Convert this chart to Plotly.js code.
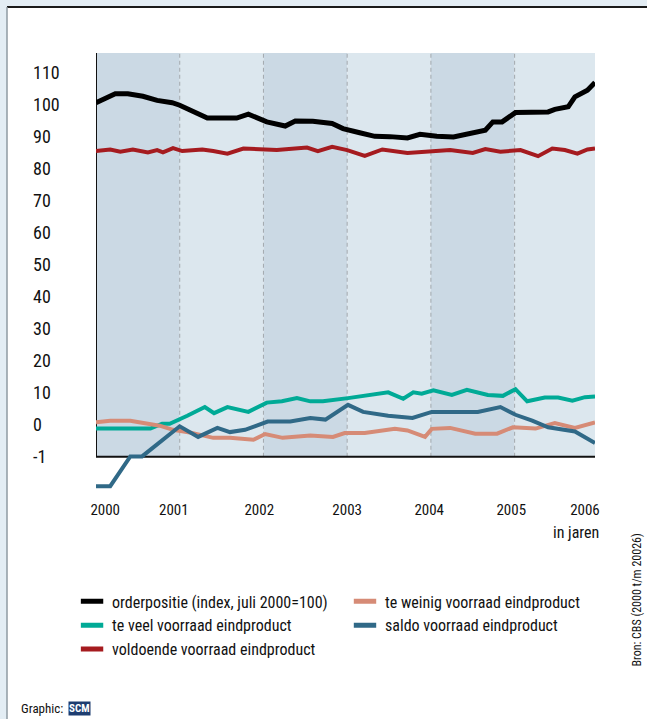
<!DOCTYPE html>
<html>
<head>
<meta charset="utf-8">
<script src="https://cdn.plot.ly/plotly-3.0.1.min.js"></script>
<style>
html,body{margin:0;padding:0;background:#fff;}
#chart{width:647px;height:719px;}
</style>
</head>
<body>
<div id="chart"></div>
<script>
// ---- data (decimal years, index / balance values) ----
var orderX = [2000.00, 2000.23, 2000.38, 2000.56, 2000.73, 2000.91, 2001.00, 2001.16, 2001.33, 2001.68, 2001.82, 2002.04, 2002.26, 2002.38, 2002.59, 2002.82, 2002.95, 2003.15, 2003.33, 2003.51, 2003.72, 2003.87, 2004.07, 2004.27, 2004.44, 2004.65, 2004.74, 2004.85, 2005.01, 2005.22, 2005.40, 2005.48, 2005.64, 2005.72, 2005.87, 2005.96];
var orderY = [100.5, 103.3, 103.3, 102.5, 101.2, 100.5, 99.7, 97.8, 95.7, 95.7, 96.9, 94.5, 93.2, 94.8, 94.7, 94.0, 92.4, 91.1, 90.0, 89.9, 89.5, 90.6, 90.0, 89.8, 90.9, 91.9, 94.5, 94.5, 97.4, 97.6, 97.6, 98.4, 99.2, 102.3, 104.4, 106.8];

var voldoendeX = [2000.00, 2000.17, 2000.29, 2000.44, 2000.62, 2000.73, 2000.80, 2000.92, 2001.03, 2001.27, 2001.40, 2001.57, 2001.76, 2002.16, 2002.52, 2002.65, 2002.82, 2003.00, 2003.21, 2003.42, 2003.72, 2004.23, 2004.50, 2004.65, 2004.83, 2005.07, 2005.28, 2005.45, 2005.60, 2005.75, 2005.87, 2005.96];
var voldoendeY = [85.4, 85.9, 85.2, 85.9, 85.0, 85.7, 85.0, 86.3, 85.4, 85.9, 85.4, 84.6, 86.2, 85.7, 86.5, 85.4, 86.7, 85.7, 83.9, 85.9, 84.8, 85.7, 84.8, 86.0, 85.2, 85.7, 83.8, 86.2, 85.7, 84.6, 85.9, 86.2];

var teveelX = [2000.00, 2000.65, 2000.79, 2000.88, 2001.09, 2001.30, 2001.41, 2001.57, 2001.82, 2002.04, 2002.22, 2002.40, 2002.56, 2002.71, 2003.01, 2003.21, 2003.49, 2003.67, 2003.79, 2003.89, 2004.03, 2004.25, 2004.43, 2004.68, 2004.86, 2005.01, 2005.15, 2005.36, 2005.52, 2005.69, 2005.84, 2005.96];
var teveelY = [-1.2, -1.2, 0.3, 0.3, 2.8, 5.5, 3.6, 5.5, 4.0, 6.9, 7.3, 8.3, 7.3, 7.3, 8.3, 9.0, 10.1, 8.1, 10.1, 9.7, 10.7, 9.3, 10.9, 9.3, 9.0, 11.1, 7.3, 8.5, 8.5, 7.5, 8.6, 8.8];

var teweinigX = [2000.00, 2000.17, 2000.41, 2000.61, 2000.76, 2000.92, 2001.12, 2001.40, 2001.60, 2001.88, 2002.02, 2002.23, 2002.56, 2002.83, 2002.97, 2003.21, 2003.57, 2003.72, 2003.93, 2004.01, 2004.23, 2004.53, 2004.79, 2004.98, 2005.25, 2005.48, 2005.72, 2005.96];
var teweinigY = [0.8, 1.2, 1.2, 0.2, -0.3, -1.6, -2.4, -4.1, -4.1, -4.7, -2.9, -4.1, -3.4, -3.8, -2.6, -2.6, -1.3, -1.8, -3.8, -1.3, -1.0, -2.8, -2.8, -0.8, -1.2, 0.5, -1.0, 0.7];

var saldoX = [2000.00, 2000.17, 2000.41, 2000.55, 2001.00, 2001.22, 2001.45, 2001.60, 2001.78, 2002.05, 2002.32, 2002.56, 2002.74, 2003.01, 2003.19, 2003.49, 2003.78, 2004.01, 2004.56, 2004.83, 2005.01, 2005.21, 2005.40, 2005.72, 2005.96];
var saldoY = [-19.2, -19.2, -9.9, -9.9, -0.5, -3.8, -1.0, -2.3, -1.6, 1.0, 1.0, 2.1, 1.6, 6.2, 4.0, 2.8, 2.1, 4.0, 4.0, 5.5, 3.1, 1.3, -0.8, -2.1, -5.7];

var seriesNames = ['orderpositie (index, juli 2000=100)', 'te veel voorraad eindproduct', 'voldoende voorraad eindproduct', 'te weinig voorraad eindproduct', 'saldo voorraad eindproduct'];

var xTickVals = [2000.11, 2000.93, 2001.95, 2003.00, 2003.98, 2004.96, 2005.84];
var xTickText = ['2000', '2001', '2002', '2003', '2004', '2005', '2006'];
var yTickVals = [110, 100, 90, 80, 70, 60, 50, 40, 30, 20, 10, 0, -10];
var yTickText = ['110', '100', '90', '80', '70', '60', '50', '40', '30', '20', '10', '0', '-1'];
var yearBands = [2000, 2001, 2002, 2003, 2004, 2005, 2005.96];

// ---- styling ----
var FONT = '"Liberation Sans Narrow", "Arial Narrow", "Roboto Condensed", "DejaVu Sans Condensed", "Liberation Sans", sans-serif';
var C_ORDER = '#000000', C_VOLD = '#a51b1f', C_VEEL = '#00aa96', C_WEINIG = '#d68b76', C_SALDO = '#306987';
var PANEL_BOTTOM = -10, PANEL_TOP = 116;

function line(x, y, color, w) {
  return {x: x, y: y, type: 'scatter', mode: 'lines', line: {color: color, width: w, shape: 'linear'},
          showlegend: false, hoverinfo: 'skip', cliponaxis: true};
}
function legendItem(name, color, leg) {
  return {x: [null], y: [null], type: 'scatter', mode: 'markers', name: name, legend: leg,
          marker: {symbol: 'line-ew-open', size: 16, color: color, line: {color: color, width: 5}},
          hoverinfo: 'skip'};
}

var data = [
  line(teveelX, teveelY, C_VEEL, 4),
  line(teweinigX, teweinigY, C_WEINIG, 4),
  line(saldoX, saldoY, C_SALDO, 4),
  line(voldoendeX, voldoendeY, C_VOLD, 4),
  line(orderX, orderY, C_ORDER, 5),
  legendItem(seriesNames[0], C_ORDER, 'legend'),
  legendItem(seriesNames[1], C_VEEL, 'legend'),
  legendItem(seriesNames[2], C_VOLD, 'legend'),
  legendItem(seriesNames[3], C_WEINIG, 'legend2'),
  legendItem(seriesNames[4], C_SALDO, 'legend2')
];

var shapes = [];
// page frame
shapes.push({type: 'rect', xref: 'paper', yref: 'paper', x0: -0.17836, x1: 1.2, y0: -0.6, y1: 1.1047,
             fillcolor: '#ffffff', line: {width: 0}, layer: 'below'});
shapes.push({type: 'line', xref: 'paper', yref: 'paper', x0: -0.17836, x1: 1.2, y0: 1.1047, y1: 1.1047,
             line: {color: '#1a1a1a', width: 2}, layer: 'below'});
shapes.push({type: 'line', xref: 'paper', yref: 'paper', x0: -0.17836, x1: -0.17836, y0: -0.6, y1: 1.1047,
             line: {color: '#8f9aa2', width: 1.5}, layer: 'below'});
// alternating year bands
for (var i = 0; i < yearBands.length - 1; i++) {
  shapes.push({type: 'rect', xref: 'x', yref: 'y', x0: yearBands[i], x1: yearBands[i + 1], y0: PANEL_BOTTOM, y1: PANEL_TOP,
               fillcolor: (i % 2 === 0) ? '#cbd9e4' : '#dce7ee', line: {width: 0}, layer: 'below'});
}
// dashed year separators
for (var j = 1; j < yearBands.length - 1; j++) {
  shapes.push({type: 'line', xref: 'x', yref: 'y', x0: yearBands[j], x1: yearBands[j], y0: PANEL_BOTTOM, y1: PANEL_TOP,
               line: {color: '#a2a8ae', width: 1, dash: '4px,3px'}, layer: 'below'});
}
// axis lines
shapes.push({type: 'line', xref: 'x', yref: 'y', x0: yearBands[0], x1: yearBands[yearBands.length - 1], y0: PANEL_BOTTOM, y1: PANEL_BOTTOM,
             line: {color: '#111111', width: 2}, layer: 'below'});
shapes.push({type: 'line', xref: 'x', yref: 'y', x0: yearBands[0], x1: yearBands[0], y0: PANEL_BOTTOM, y1: PANEL_TOP,
             line: {color: '#111111', width: 2}, layer: 'below'});

var annotations = [];
for (var k = 0; k < yTickVals.length; k++) {
  annotations.push({xref: 'paper', yref: 'y', x: -0.1303, y: yTickVals[k], text: yTickText[k], showarrow: false,
                    xanchor: 'left', yanchor: 'middle', font: {family: FONT, size: 18, color: '#111'}});
}
annotations.push({xref: 'paper', yref: 'paper', x: 0.962, y: -0.0924, text: 'in jaren', showarrow: false,
                  xanchor: 'center', yanchor: 'middle', font: {family: FONT, size: 16, color: '#111'}});
annotations.push({xref: 'paper', yref: 'paper', x: 1.084, y: -0.2449, text: 'Bron: CBS (2000 t/m 20026)', showarrow: false,
                  textangle: -90, xanchor: 'center', yanchor: 'middle', font: {family: FONT, size: 12, color: '#111'}});
annotations.push({xref: 'paper', yref: 'paper', x: -0.1543, y: -0.4930, text: 'Graphic:', showarrow: false,
                  xanchor: 'left', yanchor: 'middle', font: {family: FONT, size: 13, color: '#111'}});
annotations.push({xref: 'paper', yref: 'paper', x: -0.0561, y: -0.4930, text: '<b>SCM</b>', showarrow: false,
                  xanchor: 'left', yanchor: 'middle', bgcolor: '#1d3d70', borderpad: 0,
                  font: {family: FONT, size: 11, color: '#ffffff'}});

var layout = {
  width: 647, height: 719,
  margin: {l: 96, r: 52, t: 53, b: 226.6, pad: 0},
  paper_bgcolor: '#e3edf4',
  plot_bgcolor: 'rgba(0,0,0,0)',
  font: {family: FONT, color: '#111'},
  xaxis: {range: [2000.0, 2005.96], tickvals: xTickVals, ticktext: xTickText, showgrid: false, zeroline: false,
          showline: false, ticks: '', ticklabelstandoff: 7, tickfont: {family: FONT, size: 15, color: '#111'}, fixedrange: true},
  yaxis: {range: [-21, 116], showgrid: false, zeroline: false, showline: false, showticklabels: false, ticks: '', fixedrange: true},
  legend: {x: -0.048, y: -0.2106, xanchor: 'left', yanchor: 'top', bgcolor: 'rgba(0,0,0,0)', borderwidth: 0,
           font: {family: FONT, size: 16, color: '#111'}, tracegroupgap: 0, itemclick: false, itemdoubleclick: false},
  legend2: {x: 0.499, y: -0.2106, xanchor: 'left', yanchor: 'top', bgcolor: 'rgba(0,0,0,0)', borderwidth: 0,
            font: {family: FONT, size: 16, color: '#111'}, tracegroupgap: 0, itemclick: false, itemdoubleclick: false},
  shapes: shapes,
  annotations: annotations,
  hovermode: false
};

Plotly.newPlot('chart', data, layout, {displayModeBar: false, staticPlot: true});
</script>
</body>
</html>
